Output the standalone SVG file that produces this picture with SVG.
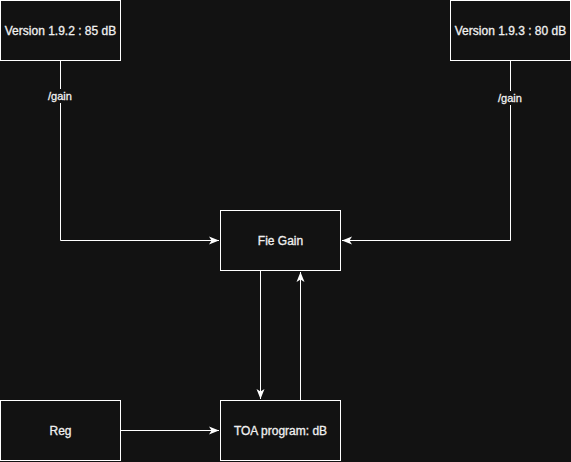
<svg xmlns="http://www.w3.org/2000/svg" width="571" height="462" viewBox="0 0 571 462">
<defs>
<style>
.node rect{fill:#121212;stroke:#ffffff;stroke-width:1}
.node text{font-family:"Liberation Sans",Arial,sans-serif;font-size:12px;fill:#f0f0f0;stroke:#f0f0f0;stroke-width:0.3;text-anchor:middle;dominant-baseline:central}
.edge{fill:none;stroke:#ffffff;stroke-width:1}
.lbl{font-family:"Liberation Sans",Arial,sans-serif;font-size:11px;fill:#f0f0f0;stroke:#f0f0f0;stroke-width:0.3;text-anchor:middle;dominant-baseline:central}
.lblbg{fill:#121212}
</style>
<marker id="arr" viewBox="0 0 10 10" refX="10" refY="5" markerWidth="10" markerHeight="10" markerUnits="userSpaceOnUse" orient="auto">
<path d="M0,1 L10,5 L0,9 L2.5,5 Z" fill="#ffffff"/>
</marker>
</defs>
<rect width="571" height="462" fill="#121212"/>
<g id="connectors">
<path class="edge" d="M60.5,60.5 V240.5 H219" marker-end="url(#arr)"/>
<path class="edge" d="M510.5,60.5 V240.5 H342" marker-end="url(#arr)"/>
<path class="edge" d="M260.5,270.5 V399" marker-end="url(#arr)"/>
<path class="edge" d="M300.5,400.5 V272" marker-end="url(#arr)"/>
<path class="edge" d="M120.5,430.5 H219" marker-end="url(#arr)"/>
<rect class="lblbg" x="46" y="89" width="29" height="14"/>
<text class="lbl" x="60" y="96">/gain</text>
<rect class="lblbg" x="496" y="91" width="29" height="14"/>
<text class="lbl" x="510" y="98">/gain</text>
</g>
<g id="v192" class="node">
<rect x="0.5" y="0.5" width="120" height="60"/>
<text x="60.5" y="30.5">Version 1.9.2 : 85 dB</text>
</g>
<g id="v193" class="node">
<rect x="450.5" y="0.5" width="120" height="60"/>
<text x="510.5" y="30.5">Version 1.9.3 : 80 dB</text>
</g>
<g id="fiegain" class="node">
<rect x="220.5" y="210.5" width="120" height="60"/>
<text x="280.5" y="240.5">Fie Gain</text>
</g>
<g id="reg" class="node">
<rect x="0.5" y="400.5" width="120" height="60"/>
<text x="60.5" y="430.5">Reg</text>
</g>
<g id="toa" class="node">
<rect x="220.5" y="400.5" width="120" height="60"/>
<text x="280.5" y="430.5">TOA program: dB</text>
</g>
</svg>
